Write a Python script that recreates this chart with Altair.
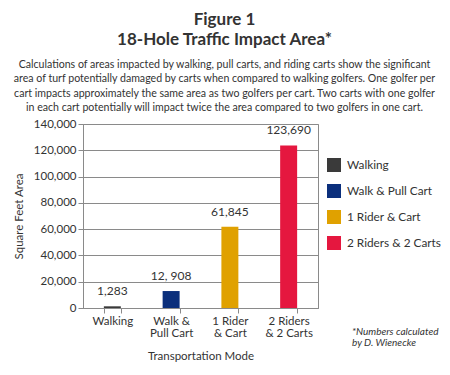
import altair as alt
import pandas as pd

modes = ["Walking", "Walk & Pull Cart", "1 Rider & Cart", "2 Riders & 2 Carts"]
axis_labels = ["Walking", "Walk &|Pull Cart", "1 Rider|& Cart", "2 Riders|& 2 Carts"]
values = [1283, 12908, 61845, 123690]
value_labels = ["1,283", "12, 908", "61,845", "123,690"]
colors = ["#3a3a3a", "#0b2f7c", "#e0a100", "#e5173f"]
y_ticks = [0, 20000, 40000, 60000, 80000, 100000, 120000, 140000]

title_lines = ["Figure 1", "18-Hole Traffic Impact Area*"]
subtitle_lines = [
    "Calculations of areas impacted by walking, pull carts, and riding carts show the significant",
    "area of turf potentially damaged by carts when compared to walking golfers. One golfer per",
    "cart impacts approximately the same area as two golfers per cart. Two carts with one golfer",
    "in each cart potentially will impact twice the area compared to two golfers in one cart.",
]
footnote = "*Numbers calculated\n\u00a0\u00a0by D. Wienecke"

df = pd.DataFrame({"mode": modes, "axis_label": axis_labels, "value": values, "label": value_labels})

GRID = "#8a8a8a"
TXT = "#333333"
FONT = "Lato"

x = alt.X(
    "axis_label:N",
    sort=axis_labels,
    scale=alt.Scale(paddingInner=0.711, paddingOuter=0.355),
    axis=alt.Axis(
        title="Transportation Mode",
        labelExpr="split(datum.label, '|')",
        labelAngle=0,
        labelFontSize=11.5,
        labelLineHeight=12,
        labelColor=TXT,
        labelPadding=2,
        tickBand="extent",
        tickSize=5,
        tickColor=GRID,
        domainColor=GRID,
        titleFontSize=11.5,
        titleFontWeight="normal",
        titleColor=TXT,
        titlePadding=12,
    ),
)
y = alt.Y(
    "value:Q",
    scale=alt.Scale(domain=[0, 140000], nice=False),
    axis=alt.Axis(
        title="Square Feet Area",
        values=y_ticks,
        format=",.0f",
        labelFontSize=11.5,
        labelColor=TXT,
        labelPadding=2,
        tickSize=5,
        tickColor=GRID,
        domainColor=GRID,
        gridColor=GRID,
        grid=True,
        titleFontSize=11.5,
        titleFontWeight="normal",
        titleColor=TXT,
        titlePadding=9,
    ),
)

base = alt.Chart(df).encode(x=x, y=y)

bars = base.mark_bar().encode(
    color=alt.Color(
        "mode:N",
        sort=modes,
        scale=alt.Scale(domain=modes, range=colors),
        legend=alt.Legend(
            title=None,
            orient="none",
            legendX=244,
            legendY=34,
            symbolType="square",
            symbolSize=196,
            symbolStrokeWidth=0,
            symbolOpacity=1,
            labelFontSize=11.8,
            labelColor=TXT,
            labelOffset=6,
            rowPadding=12,
        ),
    ),
)

texts = base.mark_text(baseline="bottom", dy=-8, fontSize=12, color=TXT).encode(
    text="label:N",
)

note = alt.Chart(pd.DataFrame({"note": [footnote]})).mark_text(
    align="left", baseline="top", fontSize=10, fontStyle="italic", color=TXT,
    lineBreak="\n", lineHeight=11,
).encode(
    x=alt.value(269),
    y=alt.value(203),
    text="note:N",
)

chart = alt.layer(bars, texts, note).properties(
    width=235,
    height=184,
    autosize=alt.AutoSizeParams(type="none"),
    padding={"left": 75, "top": 116, "right": 124, "bottom": 59},
    title=alt.TitleParams(
        text=title_lines,
        subtitle=subtitle_lines,
        anchor="middle",
        frame="group",
        dx=24,
        fontSize=17,
        fontWeight="bold",
        color=TXT,
        lineHeight=19.5,
        subtitleFontSize=10.6,
        subtitleColor=TXT,
        subtitleLineHeight=14.5,
        subtitlePadding=11,
        offset=3,
        font=FONT,
        subtitleFont=FONT,
    ),
).configure(font=FONT).configure_view(stroke=GRID, strokeWidth=1)

chart.save("out.html", embed_options={"renderer": "svg", "actions": False})
